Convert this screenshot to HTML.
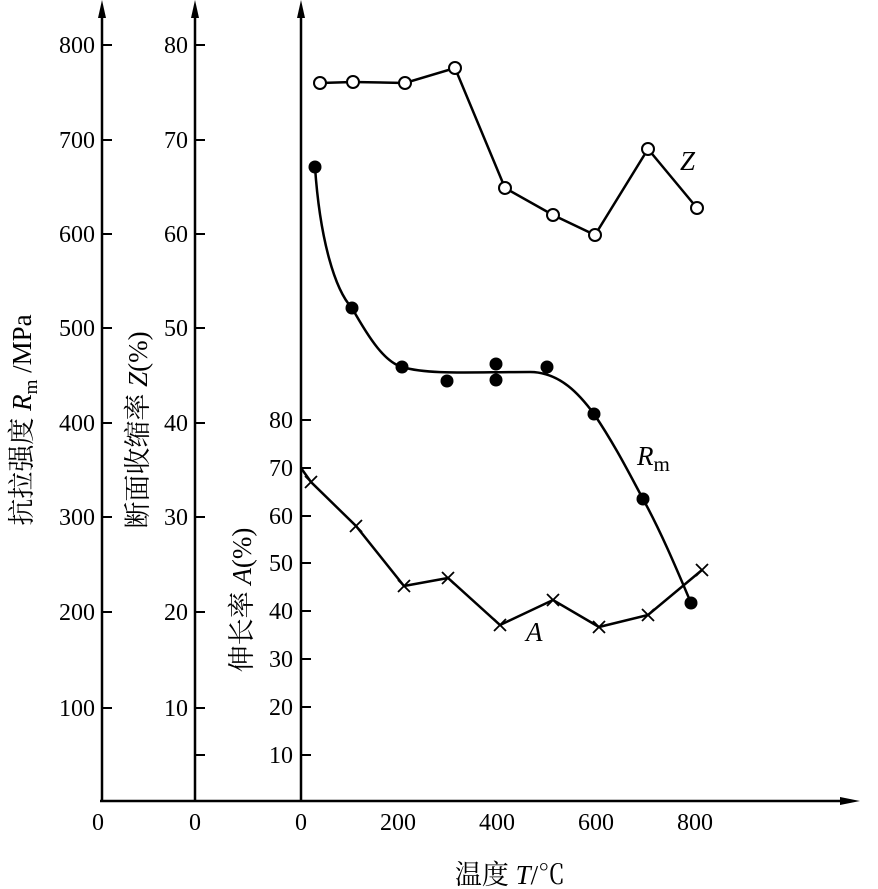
<!DOCTYPE html>
<html><head><meta charset="utf-8"><style>
html,body{margin:0;padding:0;background:#fff;}
svg{display:block;}
text{font-family:"Liberation Serif","Noto Serif CJK SC",serif;fill:#000;}
</style></head><body>
<svg width="878" height="889" viewBox="0 0 878 889" xmlns="http://www.w3.org/2000/svg">
<g stroke="#000" stroke-width="2.5" fill="none">
<line x1="102" y1="801" x2="102" y2="8"/>
<line x1="195" y1="801" x2="195" y2="8"/>
<line x1="301" y1="801" x2="301" y2="8"/>
<line x1="100" y1="801" x2="850" y2="801"/>
</g>
<g fill="#000">
<polygon points="102,0 98,18 106,18"/>
<polygon points="195,0 191,18 199,18"/>
<polygon points="301,0 297,18 305,18"/>
<polygon points="860,801 840,797 840,805"/>
</g>
<g stroke="#000" stroke-width="2">
<line x1="102" y1="45" x2="112" y2="45"/><line x1="102" y1="140" x2="112" y2="140"/><line x1="102" y1="234" x2="112" y2="234"/><line x1="102" y1="328" x2="112" y2="328"/><line x1="102" y1="423" x2="112" y2="423"/><line x1="102" y1="517" x2="112" y2="517"/><line x1="102" y1="612" x2="112" y2="612"/><line x1="102" y1="708" x2="112" y2="708"/>
<line x1="195" y1="45" x2="205" y2="45"/><line x1="195" y1="140" x2="205" y2="140"/><line x1="195" y1="234" x2="205" y2="234"/><line x1="195" y1="328" x2="205" y2="328"/><line x1="195" y1="423" x2="205" y2="423"/><line x1="195" y1="517" x2="205" y2="517"/><line x1="195" y1="612" x2="205" y2="612"/><line x1="195" y1="708" x2="205" y2="708"/><line x1="195" y1="755" x2="205" y2="755"/>
<line x1="301" y1="420" x2="311" y2="420"/><line x1="301" y1="468" x2="311" y2="468"/><line x1="301" y1="516" x2="311" y2="516"/><line x1="301" y1="563" x2="311" y2="563"/><line x1="301" y1="611" x2="311" y2="611"/><line x1="301" y1="659" x2="311" y2="659"/><line x1="301" y1="707" x2="311" y2="707"/><line x1="301" y1="755" x2="311" y2="755"/>
</g>
<g font-size="24" text-anchor="end">
<text x="95" y="53">800</text><text x="95" y="148">700</text><text x="95" y="242">600</text><text x="95" y="336">500</text><text x="95" y="431">400</text><text x="95" y="525">300</text><text x="95" y="620">200</text><text x="95" y="716">100</text>
<text x="188" y="53">80</text><text x="188" y="148">70</text><text x="188" y="242">60</text><text x="188" y="336">50</text><text x="188" y="431">40</text><text x="188" y="525">30</text><text x="188" y="620">20</text><text x="188" y="716">10</text>
<text x="293" y="428">80</text><text x="293" y="476">70</text><text x="293" y="524">60</text><text x="293" y="571">50</text><text x="293" y="619">40</text><text x="293" y="667">30</text><text x="293" y="715">20</text><text x="293" y="763">10</text>
</g>
<g font-size="24" text-anchor="middle">
<text x="98" y="830">0</text><text x="195" y="830">0</text><text x="301" y="830">0</text>
<text x="398" y="830">200</text><text x="497" y="830">400</text><text x="596" y="830">600</text><text x="695" y="830">800</text>
</g>
<text font-size="27" x="510" y="884" text-anchor="middle">温度 <tspan font-style="italic">T</tspan>/℃</text>
<text font-size="27" transform="translate(31,420) rotate(-90)" text-anchor="middle">抗拉强度 <tspan font-style="italic">R</tspan><tspan font-size="19" dy="6">m</tspan><tspan dy="-6"> /MPa</tspan></text>
<text font-size="27" transform="translate(147,430) rotate(-90)" text-anchor="middle">断面收缩率 <tspan font-style="italic">Z</tspan>(%)</text>
<text font-size="27" transform="translate(251,600) rotate(-90)" text-anchor="middle">伸长率 <tspan font-style="italic">A</tspan>(%)</text>
<polyline fill="none" stroke="#000" stroke-width="2.5" points="320,83 353,82 405,83 455,68 505,188 553,215 595,235 648,149 697,208"/>
<g fill="#fff" stroke="#000" stroke-width="2">
<circle cx="320" cy="83" r="6"/><circle cx="353" cy="82" r="6"/><circle cx="405" cy="83" r="6"/><circle cx="455" cy="68" r="6"/><circle cx="505" cy="188" r="6"/><circle cx="553" cy="215" r="6"/><circle cx="595" cy="235" r="6"/><circle cx="648" cy="149" r="6"/><circle cx="697" cy="208" r="6"/>
</g>
<path fill="none" stroke="#000" stroke-width="2.5" d="M315,167 C320,240 335,290 352,308 C370,340 385,362 402,367 C430,375 470,372 530,372 C560,372 580,395 594,414 C615,445 630,475 643,499 C660,530 675,565 691,603"/>
<g fill="#000">
<circle cx="315" cy="167" r="6.5"/><circle cx="352" cy="308" r="6.5"/><circle cx="402" cy="367" r="6.5"/><circle cx="447" cy="381" r="6.5"/><circle cx="496" cy="364" r="6.5"/><circle cx="496" cy="380" r="6.5"/><circle cx="547" cy="367" r="6.5"/><circle cx="594" cy="414" r="6.5"/><circle cx="643" cy="499" r="6.5"/><circle cx="691" cy="603" r="6.5"/>
</g>
<polyline fill="none" stroke="#000" stroke-width="2.5" points="301,468 311,482 356,526 404,586 448,578 500,625 553,600 599,627 648,615 702,570"/>
<g stroke="#000" stroke-width="1.8">
<path d="M305,476l12,12M317,476l-12,12"/><path d="M350,520l12,12M362,520l-12,12"/><path d="M398,580l12,12M410,580l-12,12"/><path d="M442,572l12,12M454,572l-12,12"/><path d="M494,619l12,12M506,619l-12,12"/><path d="M547,594l12,12M559,594l-12,12"/><path d="M593,621l12,12M605,621l-12,12"/><path d="M642,609l12,12M654,609l-12,12"/><path d="M696,564l12,12M708,564l-12,12"/>
</g>
<g font-size="27" font-style="italic">
<text x="680" y="170">Z</text>
<text x="637" y="465">R<tspan font-style="normal" font-size="21" dy="6">m</tspan></text>
<text x="526" y="641">A</text>
</g>
</svg>
</body></html>
